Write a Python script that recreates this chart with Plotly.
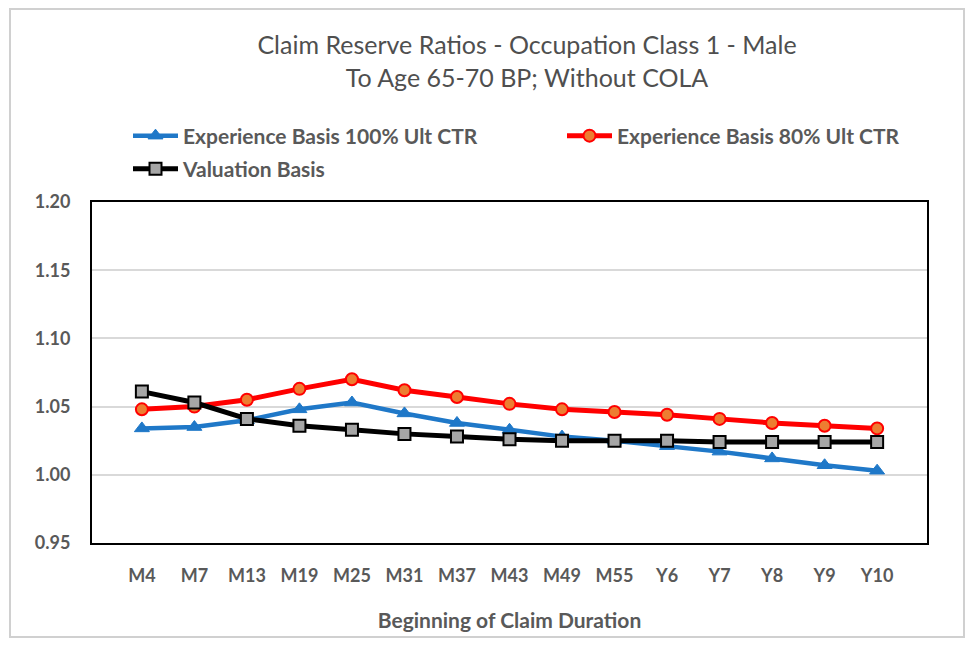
import plotly.graph_objects as go

durations = ["M4", "M7", "M13", "M19", "M25", "M31", "M37", "M43", "M49", "M55",
             "Y6", "Y7", "Y8", "Y9", "Y10"]
exp_100 = [1.034, 1.035, 1.040, 1.048, 1.053, 1.045, 1.038, 1.033, 1.028, 1.025,
           1.021, 1.017, 1.012, 1.007, 1.003]
exp_80 = [1.048, 1.050, 1.055, 1.063, 1.070, 1.062, 1.057, 1.052, 1.048, 1.046,
          1.044, 1.041, 1.038, 1.036, 1.034]
valuation = [1.061, 1.053, 1.041, 1.036, 1.033, 1.030, 1.028, 1.026, 1.025, 1.025,
             1.025, 1.024, 1.024, 1.024, 1.024]
y_ticks = [0.95, 1.00, 1.05, 1.10, 1.15, 1.20]

FONT = "Lato"
GREY = "#595959"

# the page body has an 8px margin, so work in reference pixels minus 8
OFF = 8
W, H = 958, 630
L, T = 92 - OFF, 202 - OFF
R = W - (927 - OFF)
B = H - (543 - OFF)
pw, ph = W - L - R, H - T - B


def px_x(x):
    return (x - OFF - L) / pw


def px_y(y):
    return (H - B - (y - OFF)) / ph


fig = go.Figure()

fig.add_trace(go.Scatter(
    x=durations, y=exp_100, name="Experience Basis 100% Ult CTR",
    mode="lines+markers",
    line=dict(color="#1F78C8", width=4.5),
    marker=dict(symbol="triangle-up", size=13, color="#1F78C8",
                line=dict(color="#1F78C8", width=1)),
    legend="legend", showlegend=True,
))
fig.add_trace(go.Scatter(
    x=durations, y=exp_80, name="Experience Basis 80% Ult CTR",
    mode="lines+markers",
    line=dict(color="#FF0000", width=5),
    marker=dict(symbol="circle", size=12, color="#ED7D31",
                line=dict(color="#FF0000", width=2)),
    legend="legend2", showlegend=True,
))
fig.add_trace(go.Scatter(
    x=durations, y=valuation, name="Valuation Basis",
    mode="lines+markers",
    line=dict(color="#000000", width=5),
    marker=dict(symbol="square", size=12, color="#A6A6A6",
                line=dict(color="#000000", width=2)),
    legend="legend3", showlegend=True,
))

legend_font = dict(family=FONT, size=21, color=GREY, weight="bold")


def legend_at(x, y):
    return dict(
        orientation="h", x=px_x(x), y=px_y(y), xanchor="left", yanchor="middle",
        xref="paper", yref="paper", itemwidth=45,
        font=legend_font, bgcolor="rgba(0,0,0,0)", visible=True,
    )


fig.update_layout(
    width=W, height=H,
    margin=dict(l=L, r=R, t=T, b=B, autoexpand=False),
    showlegend=True,
    paper_bgcolor="white",
    plot_bgcolor="white",
    title=dict(
        text="Claim Reserve Ratios - Occupation Class 1 - Male<br>To Age 65-70 BP; Without COLA",
        x=px_x(527), xref="paper", xanchor="center",
        y=1 - (54 - OFF) / H, yanchor="middle",
        font=dict(family=FONT, size=25, color="#4F4F4F"),
    ),
    legend=legend_at(128, 136),
    legend2=legend_at(562, 136),
    legend3=legend_at(128, 169),
    xaxis=dict(
        type="category", automargin=False,
        showline=True, mirror=True, linecolor="black", linewidth=2,
        showgrid=False, ticks="",
        tickfont=dict(family=FONT, size=18, color=GREY, weight="bold"),
        ticklabelstandoff=15,
        title=dict(text="Beginning of Claim Duration", standoff=29,
                   font=dict(family=FONT, size=21, color=GREY, weight="bold")),
    ),
    yaxis=dict(
        range=[0.95, 1.20], tickvals=y_ticks, tickformat=".2f", automargin=False,
        showline=True, mirror=True, linecolor="black", linewidth=2,
        showgrid=True, gridcolor="#D9D9D9", gridwidth=1.5,
        zeroline=False, ticks="",
        tickfont=dict(family=FONT, size=18, color=GREY, weight="bold"),
        ticklabelstandoff=16,
    ),
    shapes=[dict(
        type="rect", xref="paper", yref="paper",
        x0=px_x(10), x1=px_x(964), y0=px_y(637), y1=px_y(9),
        line=dict(color="#D0D0D0", width=2), layer="below",
    )],
)

fig.write_html("out.html")
